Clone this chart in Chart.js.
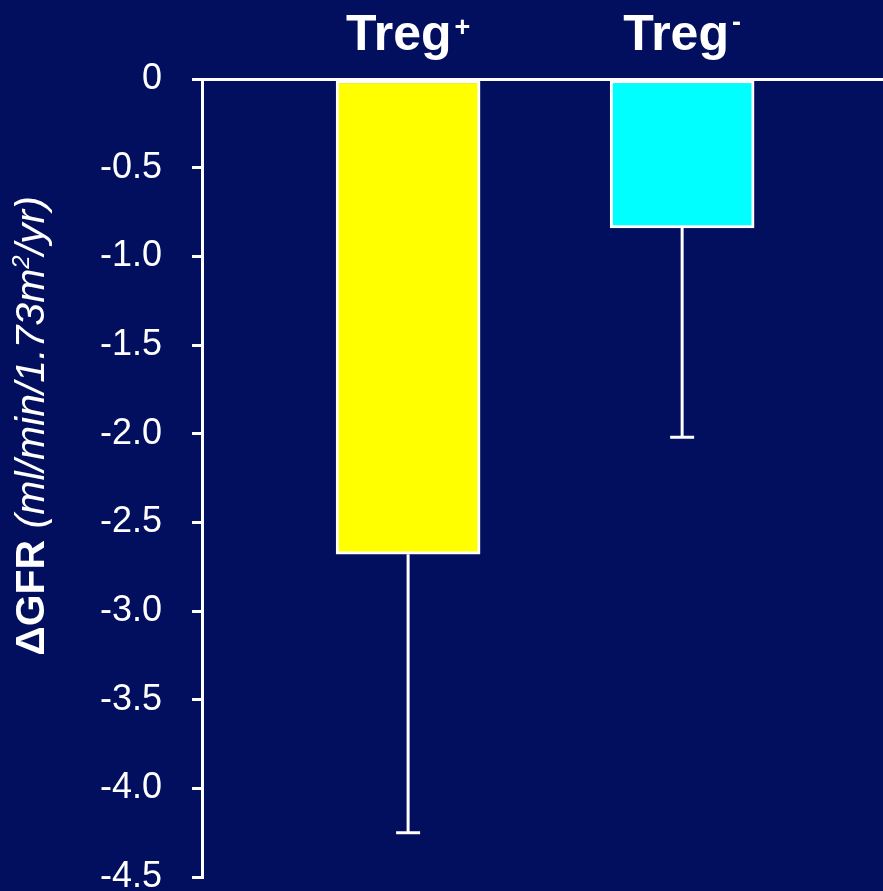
<!DOCTYPE html>
<html>
<head>
<meta charset="utf-8">
<script src="https://cdn.jsdelivr.net/npm/chart.js@4/dist/chart.umd.min.js"></script>
<style>
  html, body { margin: 0; padding: 0; background: #020E5E; overflow: hidden; }
  canvas { display: block; }
</style>
</head>
<body>
<canvas id="chart" width="883" height="891"></canvas>
<script>
// Annual change in GFR by Treg group (mean, with downward SD)
const categories = ['Treg+', 'Treg-'];
const gfrChange = [-2.68, -0.84];
const gfrErrorDown = [1.57, 1.18];
const barColors = ['#FFFF00', '#00FFFF'];
const yTickValues = [0, -0.5, -1.0, -1.5, -2.0, -2.5, -3.0, -3.5, -4.0, -4.5];
const yTickLabels = ['0', '-0.5', '-1.0', '-1.5', '-2.0', '-2.5', '-3.0', '-3.5', '-4.0', '-4.5'];
const yTitleParts = [
  { text: '\u0394GFR', style: 'bold' },
  { text: ' (ml/min/1.73m', style: 'italic' },
  { text: '2', style: 'italic', sup: true },
  { text: '/yr)', style: 'italic' }
];

const FONT = "'Liberation Sans', Arial, Helvetica, sans-serif";
const WHITE = '#FFFFFF';

// Downward error bars with a short cap
const errorBars = {
  id: 'errorBars',
  afterDatasetsDraw(chart) {
    const { ctx, scales: { y } } = chart;
    const meta = chart.getDatasetMeta(0);
    ctx.save();
    ctx.strokeStyle = WHITE;
    ctx.lineWidth = 3;
    meta.data.forEach((bar, i) => {
      const x = bar.x;
      const yStart = y.getPixelForValue(gfrChange[i]);
      const yEnd = y.getPixelForValue(gfrChange[i] - gfrErrorDown[i]);
      ctx.beginPath();
      ctx.moveTo(x, yStart);
      ctx.lineTo(x, yEnd);
      ctx.moveTo(x - 12, yEnd);
      ctx.lineTo(x + 12, yEnd);
      ctx.stroke();
    });
    ctx.restore();
  }
};

// Group names above the bars, with superscript sign
const categoryLabels = {
  id: 'categoryLabels',
  afterDraw(chart) {
    const { ctx, scales: { x } } = chart;
    ctx.save();
    ctx.fillStyle = WHITE;
    ctx.textBaseline = 'alphabetic';
    ctx.textAlign = 'left';
    categories.forEach((label, i) => {
      const base = label.slice(0, -1);
      const sign = label.slice(-1);
      const cx = x.getPixelForValue(i + 1);
      ctx.font = 'bold 50px ' + FONT;
      const wBase = ctx.measureText(base).width;
      ctx.font = 'bold 27px ' + FONT;
      const wSign = ctx.measureText(sign).width;
      const gap = 3;
      const left = cx - (wBase + gap + wSign) / 2;
      ctx.font = 'bold 50px ' + FONT;
      ctx.fillText(base, left, 50);
      ctx.font = 'bold 27px ' + FONT;
      ctx.fillText(sign, left + wBase + gap, sign === '+' ? 36 : 31);
    });
    ctx.restore();
  }
};

// Rotated y-axis title with mixed bold / italic / superscript runs
const yAxisTitle = {
  id: 'yAxisTitle',
  afterDraw(chart) {
    const { ctx } = chart;
    const size = 41;
    const supSize = 24;
    const fontFor = (p) => (p.style === 'bold' ? 'bold ' : 'italic ') + (p.sup ? supSize : size) + 'px ' + FONT;
    ctx.save();
    let total = 0;
    const widths = yTitleParts.map((p) => {
      ctx.font = fontFor(p);
      const w = ctx.measureText(p.text).width;
      total += w;
      return w;
    });
    const cx = 44, cy = 426;
    ctx.translate(cx, cy);
    ctx.rotate(-Math.PI / 2);
    ctx.fillStyle = WHITE;
    ctx.textBaseline = 'alphabetic';
    ctx.textAlign = 'left';
    let pos = -total / 2;
    yTitleParts.forEach((p, i) => {
      ctx.font = fontFor(p);
      ctx.fillText(p.text, pos, p.sup ? -15 : 0);
      pos += widths[i];
    });
    ctx.restore();
  }
};

new Chart(document.getElementById('chart'), {
  type: 'bar',
  data: {
    datasets: [{
      data: categories.map((c, i) => ({ x: i + 1, y: gfrChange[i] })),
      backgroundColor: barColors,
      borderColor: WHITE,
      borderWidth: 3,
      borderSkipped: false,
      barThickness: 144
    }]
  },
  options: {
    responsive: false,
    devicePixelRatio: 1,
    animation: false,
    layout: { padding: { left: 70, top: 79, right: 0, bottom: 14 } },
    plugins: { legend: { display: false }, tooltip: { enabled: false } },
    scales: {
      x: {
        type: 'linear',
        position: 'top',
        offset: false,
        min: 0.248,
        max: 2.733,
        ticks: { display: false },
        grid: { display: false, drawTicks: false, offset: false },
        border: { display: true, color: WHITE, width: 3 }
      },
      y: {
        min: -4.5,
        max: 0,
        afterBuildTicks(scale) {
          scale.ticks = yTickValues.map((v) => ({ value: v }));
        },
        afterFit(scale) {
          scale.paddingTop = 0;
          scale.paddingBottom = 0;
        },
        ticks: {
          color: WHITE,
          font: { family: FONT, size: 36 },
          padding: 30,
          callback: (v, i) => yTickLabels[i]
        },
        grid: {
          drawOnChartArea: false,
          drawTicks: true,
          tickLength: 10,
          color: WHITE,
          lineWidth: 3
        },
        border: { display: true, color: WHITE, width: 3 }
      }
    }
  },
  plugins: [errorBars, categoryLabels, yAxisTitle]
});
</script>
</body>
</html>
